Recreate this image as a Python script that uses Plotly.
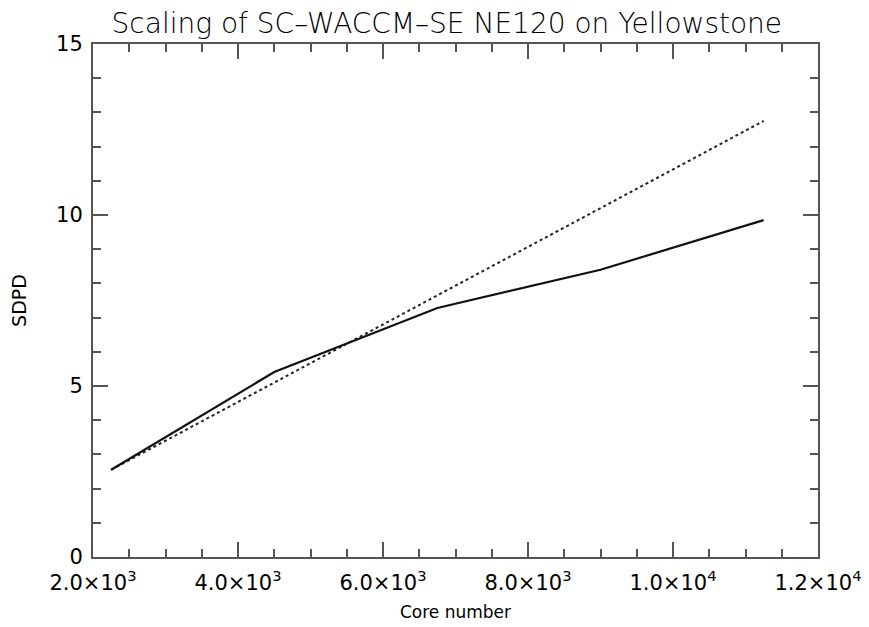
import plotly.graph_objects as go

cores = [2250, 4500, 6750, 9000, 11250]
sdpd_actual = [2.55, 5.41, 7.28, 8.40, 9.85]
sdpd_ideal = [2.55, 5.10, 7.65, 10.20, 12.75]

x_tickvals = [2000, 4000, 6000, 8000, 10000, 12000]
x_ticktext = ["2.0×10<sup>3</sup>", "4.0×10<sup>3</sup>", "6.0×10<sup>3</sup>",
              "8.0×10<sup>3</sup>", "1.0×10<sup>4</sup>", "1.2×10<sup>4</sup>"]
y_tickvals = [0, 5, 10, 15]
y_ticktext = ["0", "5", "10", "15"]

FONT = "DejaVu Sans"

fig = go.Figure()
fig.add_trace(go.Scatter(x=cores, y=sdpd_ideal, mode="lines",
                         line=dict(color="#222", width=2, dash="dot"), showlegend=False))
fig.add_trace(go.Scatter(x=cores, y=sdpd_actual, mode="lines",
                         line=dict(color="#111", width=2.2), showlegend=False))

axcol = "#555"
fig.update_layout(
    width=869, height=627,
    margin=dict(l=85, r=59, t=36, b=78, autoexpand=False),
    paper_bgcolor="white", plot_bgcolor="white",
    font=dict(family=FONT, color="black", size=18),
    title=dict(text="Scaling of SC–WACCM–SE NE120 on Yellowstone", x=0.505, xanchor="center",
               xref="container",
               y=0.992, yanchor="top", font=dict(size=28, family=FONT, weight=300)),
    xaxis=dict(range=[2000, 12000], tickvals=x_tickvals, ticktext=x_ticktext,
               automargin=False,
               showgrid=False, zeroline=False, showline=True, linecolor=axcol, linewidth=2,
               mirror="allticks", ticks="inside", ticklen=15, tickwidth=2, tickcolor=axcol,
               minor=dict(dtick=500, ticks="inside", ticklen=8, tickwidth=2, tickcolor=axcol, showgrid=False),
               title=dict(text="Core number", font=dict(size=17), standoff=12),
               ticklabelstandoff=6,
               tickfont=dict(size=21)),
    yaxis=dict(range=[0, 15], tickvals=y_tickvals, ticktext=y_ticktext,
               automargin=False,
               showgrid=False, zeroline=False, showline=True, linecolor=axcol, linewidth=2,
               mirror="allticks", ticks="inside", ticklen=15, tickwidth=2, tickcolor=axcol,
               minor=dict(dtick=1, ticks="inside", ticklen=8, tickwidth=2, tickcolor=axcol, showgrid=False),
               title=dict(text="SDPD", font=dict(size=19), standoff=24),
               ticklabelstandoff=4,
               tickfont=dict(size=21)),
)

fig.write_html("out.html")
